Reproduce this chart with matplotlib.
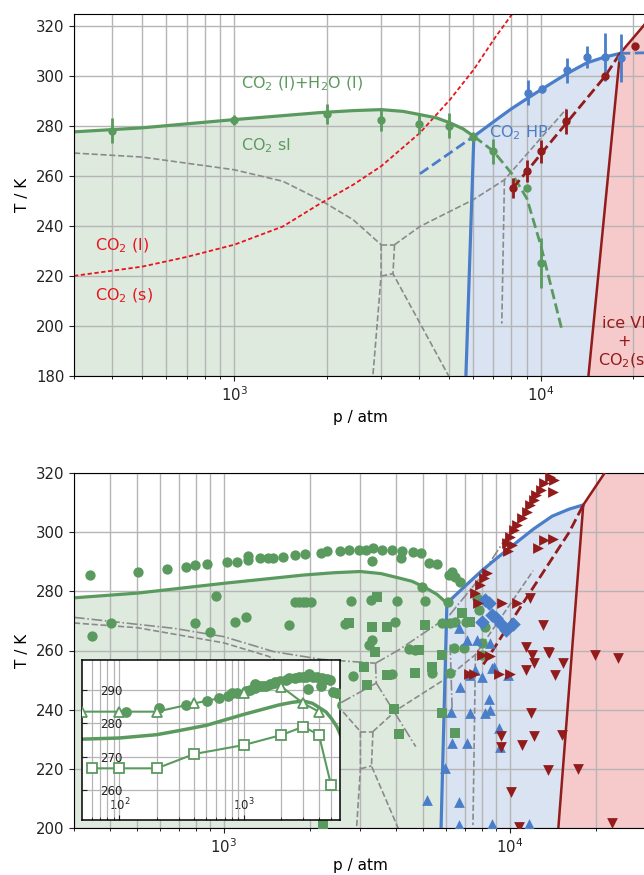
import matplotlib
matplotlib.use('Agg')
import matplotlib.pyplot as plt
from matplotlib.ticker import NullFormatter

# ---------------- colours ----------------
GREEN = '#5a9a5e'
GREEN_FILL = '#dfeadf'
BLUE = '#4a7ec9'
BLUE_FILL = '#d9e3f1'
DRED = '#921b1b'
RED_FILL = '#f6c9cb'
RED = '#e8141c'
GRAY = '#8a8a8a'
GRID = '#b5b5b5'

# ---------------- model curves ----------------
green_p = [45, 100, 200, 300, 500, 1000, 1900, 2440, 3010, 3550, 4030, 4560, 5050, 5570, 6040]
green_T = [275.2, 275.6, 276.6, 277.8, 279.4, 282.7, 285.5, 286.3, 286.7, 286.0, 284.7, 283.4, 281.4, 279.0, 276.0]
green_dash_p = [6040, 7000, 8100, 9000, 10000, 11700]
green_dash_T = [276.0, 270.0, 260.5, 251.0, 232.0, 198.5]

blue_p = [5690, 6040, 7160, 8000, 9080, 10100, 12140, 14090, 16170, 18100]
blue_T = [180.0, 276.0, 282.7, 287.0, 291.4, 295.0, 301.1, 305.4, 307.8, 309.2]
blue_dash_left_p = [4030, 6040]
blue_dash_left_T = [261.0, 276.0]
blue_dash_right_p = [18100, 24000]
blue_dash_right_T = [309.2, 309.6]

dred_p = [14280, 18100, 21500, 26000]
dred_T = [180.0, 309.2, 320.0, 333.0]
dred_dash_p = [8100, 9000, 10000, 12140, 16170, 18100]
dred_dash_T = [255.3, 262.0, 269.0, 281.5, 300.0, 309.2]

co2_melt_p = [300, 500, 700, 1000, 1440, 1900, 2440, 3010, 4030, 5050, 6040, 7080, 8110]
co2_melt_T = [220.1, 223.8, 227.7, 232.6, 239.9, 249.0, 256.6, 264.0, 277.4, 290.7, 302.8, 315.5, 325.5]

# gray dashed phase boundaries (list of polylines)
gray_dash_lines = [
    ([300, 500, 1000, 1440, 1900, 2440, 3010], [269.3, 267.7, 262.6, 258.0, 250.6, 242.6, 232.6]),
    ([3010, 3330], [232.6, 232.6]),
    ([3010, 3010, 2830], [232.6, 220.0, 180.0]),
    ([3330, 3290, 5000], [232.6, 221.0, 180.0]),
    ([3010, 3290], [220.0, 221.0]),
    ([3330, 4030, 6010, 7600, 12100], [232.6, 239.9, 250.6, 258.6, 287.0]),
    ([7600, 7450], [258.6, 201.0]),
]
# gray dash-dot boundaries (bottom panel)
gray_dashdot_lines = [
    ([300, 670, 1000, 1500, 2200, 3400], [271.2, 267.5, 264.7, 259.6, 257.0, 255.7]),
    ([3400, 3420], [255.7, 249.0]),
    ([2000, 2535, 3420], [237.0, 242.0, 249.0]),
    ([3420, 4700], [249.0, 227.5]),
    ([3400, 4100, 5400, 6100, 7800, 10500], [255.7, 260.2, 268.0, 271.4, 284.0, 303.0]),
    ([6200, 6300], [262.0, 240.0]),
]

# ---------------- top panel data points ----------------
green_pts_p = [400, 1000, 2000, 3000, 4000, 5000, 6000, 7000, 9000, 10000]
green_pts_T = [278.3, 282.7, 285.1, 282.7, 281.1, 280.3, 275.8, 270.0, 255.3, 225.2]
green_pts_err = [5, 2, 4, 4.5, 4, 5, 2, 5, 1, 10]

blue_pts_p = [9080, 10100, 12140, 14160, 16170, 18200]
blue_pts_T = [293.4, 295.0, 302.5, 307.7, 307.8, 307.4]
blue_pts_err = [5, 1.5, 5, 4.5, 9.5, 9.5]

dred_pts_p = [8100, 9000, 10000, 12100, 16200, 20300]
dred_pts_T = [255.3, 262.2, 270.0, 282.0, 300.0, 312.0]
dred_pts_err = [4, 4.5, 4.5, 5, 1, 1.5]

# ---------------- bottom panel data ----------------
gc_upper_p = [113, 209, 341, 501, 634, 741, 796, 874, 1032, 1112, 1218, 1218, 1343, 1435, 1493,
              1618, 1782, 1931, 2189, 2308, 2551, 2749, 2977, 3150, 3335, 3591, 3890, 4216, 4600,
              4887, 5223, 5583, 6125, 6466, 3296, 4159, 6295, 6733]
gc_upper_T = [283.5, 284.5, 285.5, 286.6, 287.6, 288.2, 289.0, 289.2, 289.8, 289.9, 291.9, 290.6, 291.2, 291.2, 291.2,
              291.7, 292.3, 292.6, 293.1, 293.6, 293.6, 294.0, 294.0, 294.0, 294.7, 294.0, 294.0, 293.6, 293.3,
              292.9, 289.5, 289.1, 285.5, 284.7, 290.4, 291.2, 286.6, 283.3]

gc_lower_p = [348, 405, 796, 899, 943, 1099, 1199, 1698, 1782, 1841, 1900, 1940, 2020, 2785, 3272,
              4046, 5082, 2660, 3973, 3227, 3310, 4448, 4688, 5807, 6210, 6380, 6098, 2827, 3890,
              5335, 6210, 7690, 7800, 6466, 7020, 8222, 8000, 6918, 8000, 4944]
gc_lower_T = [264.9, 269.2, 269.2, 266.2, 278.4, 269.7, 271.4, 268.6, 276.5, 276.5, 276.5, 276.5, 276.5, 276.8, 277.0,
              276.8, 276.8, 269.0, 269.7, 261.9, 263.5, 260.4, 260.2, 269.4, 269.4, 260.7, 276.5, 251.4, 252.0,
              252.3, 252.3, 277.6, 273.7, 269.7, 269.7, 268.0, 262.4, 260.7, 258.5, 281.4]

gsq_p = [3443, 2749, 3296, 3734, 5082, 3390, 4820, 5807, 3098, 3181, 3734, 4688, 5370, 3945, 4106,
         5807, 6466, 2220, 6825, 7290]
gsq_T = [278.2, 269.2, 268.0, 268.0, 268.6, 259.6, 260.2, 258.5, 254.5, 248.3, 251.7, 252.3, 254.5, 240.1, 231.8,
         239.0, 232.2, 201.3, 272.6, 269.7]

btri_p = [5150, 5970, 6300, 7100, 7290, 8222, 8540, 6250, 9160, 9290, 6720, 7290, 8000, 8670, 8452,
          6640, 6640, 8670, 11650, 6640, 7100, 7690, 8570, 7590, 9900, 8800]
btri_T = [209.4, 220.2, 228.6, 228.6, 238.8, 238.8, 239.9, 239.3, 233.7, 227.5, 247.8, 251.7, 251.1, 254.0, 243.5,
          208.9, 201.0, 201.5, 201.5, 267.5, 263.5, 263.5, 262.4, 253.4, 251.7, 254.5]

bdia_p = [8200, 8500, 8700, 9000, 9300, 9700, 10300, 8000]
bdia_T = [277.0, 276.0, 272.0, 271.0, 269.0, 267.0, 269.0, 269.5]

rdown_p = [11800, 13040, 11430, 13680, 19900, 23970, 11950, 13750, 11400, 12140, 14420, 15350, 11910,
           9360, 9360, 11090, 12140, 15300, 13680, 17390, 10140, 10750, 22770]
rdown_T = [277.6, 268.6, 261.3, 259.6, 258.5, 257.4, 258.5, 259.0, 253.4, 255.9, 251.6, 255.9, 238.8,
           231.1, 227.5, 228.0, 231.1, 231.4, 219.6, 219.8, 212.3, 200.5, 201.6]

rright_p = [7590, 7900, 8110, 8350, 9790, 10000, 10330, 10590, 11040, 11490, 11800, 12140, 12420, 12920,
            13250, 13800, 14300, 14200, 12620, 13250, 14200, 9400, 10590, 7190, 7490, 9160, 10000, 8570,
            8000, 7750, 9900, 10200]
rright_T = [279.3, 282.1, 284.4, 286.1, 296.2, 298.5, 300.7, 302.4, 304.7, 306.9, 309.2, 310.9, 312.6, 314.3,
            316.5, 318.7, 317.6, 313.7, 294.5, 297.4, 297.6, 275.9, 275.9, 252.0, 252.0, 252.0, 252.0, 258.1,
            258.5, 276.0, 293.5, 295.5]

# ---------------- inset data ----------------
tri_p = [50, 100, 200, 400, 1000, 2000, 3000, 4000]
tri_T = [283.5, 283.5, 283.5, 286.0, 289.0, 291.0, 286.0, 283.5]
sq_p = [60, 100, 200, 400, 1000, 2000, 3000, 4000, 5000]
sq_T = [266.5, 266.5, 266.5, 270.8, 273.5, 276.5, 279.0, 276.5, 261.5]
inset_err = 1.5

# ---------------- figure ----------------
fig = plt.figure(figsize=(6.44, 8.75), dpi=100)
W, H = 644.0, 875.0
ax1 = fig.add_axes([74 / W, 1 - 376 / H, 572 / W, 362 / H])
ax2 = fig.add_axes([74 / W, 1 - 828 / H, 572 / W, 355 / H])
axin = fig.add_axes([82.3 / W, 1 - 820 / H, (340 - 82.3) / W, 160 / H], zorder=5)


def draw_regions(ax):
    gx = list(green_p) + [blue_p[0], green_p[0]]
    gy = list(green_T) + [blue_T[0], blue_T[0]]
    ax.fill(gx, gy, color=GREEN_FILL, lw=0, zorder=0.5)
    bx = list(blue_p) + list(dred_p[:2][::-1])
    by = list(blue_T) + list(dred_T[:2][::-1])
    ax.fill(bx, by, color=BLUE_FILL, lw=0, zorder=0.5)
    rx = list(dred_p) + [80000, 80000]
    ry = list(dred_T) + [dred_T[-1], dred_T[0]]
    ax.fill(rx, ry, color=RED_FILL, lw=0, zorder=0.5)
    ax.plot(green_p, green_T, color=GREEN, lw=2.3, zorder=2.5)
    ax.plot(blue_p, blue_T, color=BLUE, lw=2.3, zorder=2.6)
    ax.plot(dred_p, dred_T, color=DRED, lw=1.8, zorder=2.6)
    ax.plot(dred_dash_p, dred_dash_T, color=DRED, lw=2.0, ls='--', zorder=2.6)
    for xs, ys in gray_dash_lines:
        ax.plot(xs, ys, color=GRAY, lw=1.2, ls='--', zorder=2)


def style_main(ax, xlim, ylim, yticks, labelpad=4):
    ax.set_xscale('log')
    ax.set_xlim(*xlim)
    ax.set_ylim(*ylim)
    ax.set_yticks(yticks)
    ax.xaxis.set_minor_formatter(NullFormatter())
    ax.grid(True, which='major', color=GRID, lw=1.0)
    ax.grid(True, which='minor', axis='x', color=GRID, lw=1.0)
    ax.tick_params(labelsize=10.7, colors='#222222')
    ax.set_xlabel('p / atm', fontsize=11, labelpad=labelpad)
    ax.set_ylabel('T / K', fontsize=11)


# ----- top panel -----
draw_regions(ax1)
ax1.plot(green_dash_p, green_dash_T, color=GREEN, lw=2.0, ls='--', zorder=2.5)
ax1.plot(blue_dash_left_p, blue_dash_left_T, color=BLUE, lw=2.0, ls='--', zorder=2.5)
ax1.plot(blue_dash_right_p, blue_dash_right_T, color=BLUE, lw=2.0, ls='--', zorder=2.5)
ax1.plot(co2_melt_p, co2_melt_T, color=RED, lw=1.3, ls=(0, (2.4, 1.4)), zorder=2.4)
ax1.errorbar(green_pts_p, green_pts_T, yerr=green_pts_err, fmt='o', color=GREEN, ms=5,
             elinewidth=2, capsize=0, zorder=4)
ax1.errorbar(blue_pts_p, blue_pts_T, yerr=blue_pts_err, fmt='o', color=BLUE, ms=5,
             elinewidth=2, capsize=0, zorder=4)
ax1.errorbar(dred_pts_p, dred_pts_T, yerr=dred_pts_err, fmt='o', color=DRED, ms=5,
             elinewidth=2, capsize=0, zorder=4)
ax1.text(1054, 297.1, 'CO$_2$ (l)+H$_2$O (l)', color=GREEN, fontsize=11.5, va='center', ha='left')
ax1.text(1054, 272.3, 'CO$_2$ sI', color=GREEN, fontsize=11.5, va='center', ha='left')
ax1.text(6780, 277.4, 'CO$_2$ HP', color=BLUE, fontsize=11.5, va='center', ha='left')
ax1.text(351, 232.3, 'CO$_2$ (l)', color=RED, fontsize=11.5, va='center', ha='left')
ax1.text(351, 212.3, 'CO$_2$ (s)', color=RED, fontsize=11.5, va='center', ha='left')
ax1.text(18700, 193.2, 'ice VI\n+\nCO$_2$(s)', color=DRED, fontsize=11.5, va='center', ha='center')
style_main(ax1, (300, 22000), (180, 325), range(180, 321, 20))

# ----- bottom panel -----
draw_regions(ax2)
for xs, ys in gray_dashdot_lines:
    ax2.plot(xs, ys, color=GRAY, lw=1.2, ls='-.', zorder=2)
ax2.scatter(gc_upper_p, gc_upper_T, s=55, marker='o', color=GREEN, lw=0, zorder=3)
ax2.scatter(gc_lower_p, gc_lower_T, s=55, marker='o', color=GREEN, lw=0, zorder=3)
ax2.scatter(gsq_p, gsq_T, s=48, marker='s', color=GREEN, lw=0, zorder=3)
ax2.scatter(btri_p, btri_T, s=60, marker='^', color=BLUE, lw=0, zorder=3.1)
ax2.scatter(bdia_p, bdia_T, s=55, marker='D', color=BLUE, lw=0, zorder=3.1)
ax2.scatter(rdown_p, rdown_T, s=60, marker='v', color=DRED, lw=0, zorder=3.2)
ax2.scatter(rright_p, rright_T, s=60, marker='>', color=DRED, lw=0, zorder=3.2)
style_main(ax2, (300, 30000), (200, 320), range(200, 321, 20), labelpad=1)

# ----- inset -----
axin.set_facecolor('white')
axin.plot(green_p, green_T, color=GREEN, lw=2.5, zorder=2.5)
axin.scatter(gc_upper_p, gc_upper_T, s=60, marker='o', color=GREEN, lw=0, zorder=3)
axin.errorbar(tri_p, tri_T, yerr=inset_err, fmt='-^', color=GREEN, mfc='white', mec=GREEN,
              ms=7.5, mew=1.3, lw=1.5, elinewidth=1.3, capsize=0, zorder=4)
axin.errorbar(sq_p, sq_T, yerr=inset_err, fmt='-s', color=GREEN, mfc='white', mec=GREEN,
              ms=7.5, mew=1.3, lw=1.5, elinewidth=1.3, capsize=0, zorder=4)
axin.set_xscale('log')
axin.set_xlim(50.5, 5900)
axin.set_ylim(251, 299)
axin.set_xticks([100, 1000])
axin.set_yticks([260, 270, 280, 290])
axin.xaxis.set_minor_formatter(NullFormatter())
axin.grid(True, which='major', color=GRID, lw=0.9)
axin.grid(True, which='minor', axis='x', color=GRID, lw=0.9)
axin.tick_params(axis='both', which='both', direction='in', labelsize=8.5, colors='#222222')
axin.tick_params(axis='y', pad=-12.5)
axin.tick_params(axis='x', pad=-17)
for lab in axin.get_yticklabels():
    lab.set_horizontalalignment('left')
for sp in axin.spines.values():
    sp.set_linewidth(1.1)

fig.savefig('out.png', dpi=100)
